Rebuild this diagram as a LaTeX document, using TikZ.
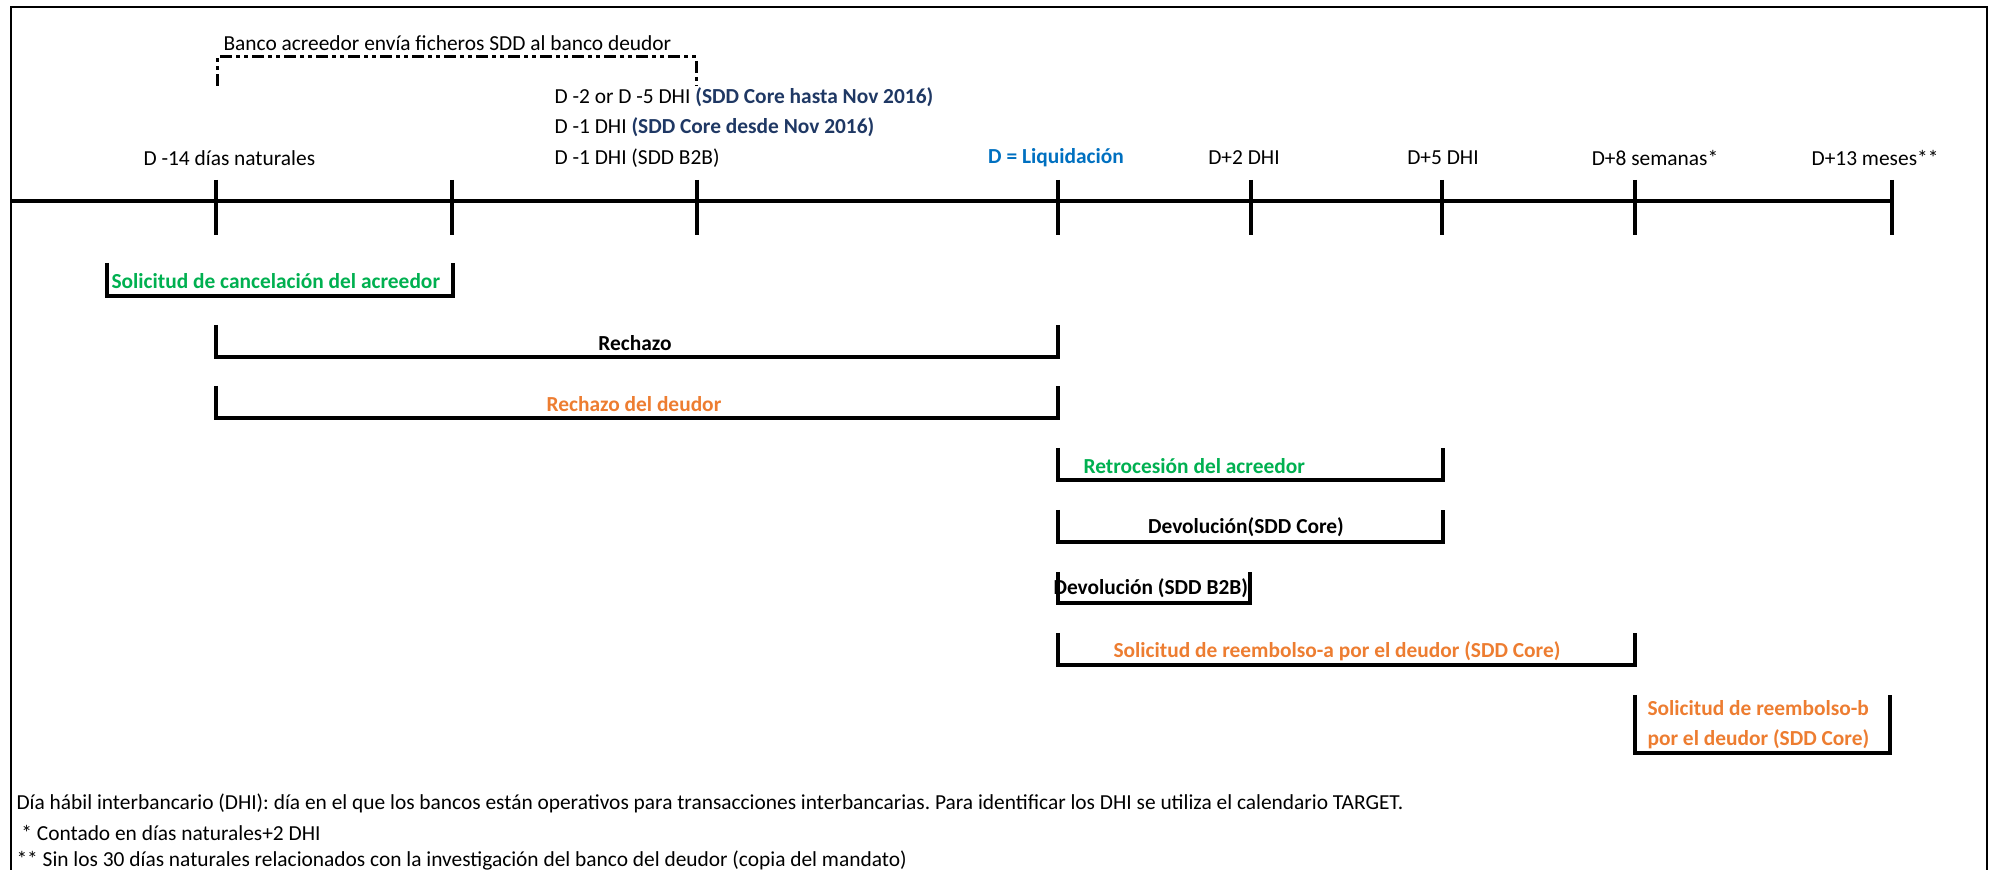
\documentclass[tikz,border=0pt]{standalone}
\usepackage{fontspec}
\setmainfont{Carlito}
\usepackage{tikz}
\usetikzlibrary{calc}
\definecolor{verde}{HTML}{00B050}
\definecolor{naranja}{HTML}{ED7D31}
\definecolor{azul}{HTML}{0070C0}
\definecolor{marino}{HTML}{1F3864}
\frenchspacing

\begin{document}
\begin{tikzpicture}[x=0.5pt,y=-0.5pt]
	\fontsize{10.7}{12.8}\selectfont
	\useasboundingbox (0,0) rectangle (1993,870);
	\draw[line width=1pt] (11,870)--(11,7)--(1987,7)--(1987,870);

	\draw[line width=2.2pt] (11,201)--(1892,201);
	\foreach \x in {216,452,697,1058,1251,1442,1635,1892}
		\draw[line width=2pt] (\x,180)--(\x,235);

	\node[anchor=west] (envio) at (216,43) {Banco acreedor envía ficheros SDD al banco deudor};
	\draw[line width=1.5pt, dash pattern=on 6pt off 2pt on 2pt off 2pt on 2pt off 2pt] (217,86)--(217,57)--(696,57)--(696,86);

	\node[anchor=west] (dm14) at (136,158) {D -14 días naturales};
	\node[anchor=west] (dhasta) at (547,97) {D -2 or D -5 DHI \textcolor{marino}{\bfseries(SDD Core hasta Nov 2016)}};
	\node[anchor=west] (ddesde) at (547,127) {D -1 DHI \textcolor{marino}{\bfseries(SDD Core desde Nov 2016)}};
	\node[anchor=west] (db2b) at (547,158) {D -1 DHI (SDD B2B)};
	\node (dliq) at (1056,158) {\bfseries\textcolor{azul}{D = Liquidación}};
	\node (dp2) at (1244,158) {D+2 DHI};
	\node (dp5) at (1443,158) {D+5 DHI};
	\node (dp8) at (1655,158) {D+8 semanas*};
	\node (dp13) at (1875,158) {D+13 meses**};

	\draw[line width=1.7pt] (107,263)--(107,296)--(453,296)--(453,263);
	\node[anchor=west, text=verde, font=\bfseries] (cancel) at (104,281) {Solicitud de cancelación del acreedor};

	\draw[line width=1.7pt] (216,325)--(216,357)--(1058,357)--(1058,325);
	\node[font=\bfseries] (rech) at (635,343) {Rechazo};

	\draw[line width=1.7pt] (216,386)--(216,418)--(1058,418)--(1058,386);
	\node[text=naranja, font=\bfseries] (rechd) at (634,404) {Rechazo del deudor};

	\draw[line width=1.7pt] (1058,448)--(1058,480)--(1443,480)--(1443,448);
	\node[anchor=west, text=verde, font=\bfseries] (retro) at (1076,466) {Retrocesión del acreedor};

	\draw[line width=1.7pt] (1058,510)--(1058,542)--(1443,542)--(1443,510);
	\node[font=\bfseries] (devcore) at (1246,527) {Devolución(SDD Core)};

	\draw[line width=1.7pt] (1058,572)--(1058,603)--(1250,603)--(1250,572);
	\node[anchor=west, font=\bfseries] (devb2b) at (1046,588) {Devolución (SDD B2B)};

	\draw[line width=1.7pt] (1058,633)--(1058,665)--(1635,665)--(1635,633);
	\node[text=naranja, font=\bfseries] (reema) at (1337,651) {Solicitud de reembolso-a por el deudor (SDD Core)};

	\draw[line width=1.7pt] (1635,695)--(1635,753)--(1890,753)--(1890,695);
	\node[anchor=west, text=naranja, font=\bfseries] (reemb1) at (1640,708) {Solicitud de reembolso-b};
	\node[anchor=west, text=naranja, font=\bfseries] (reemb2) at (1640,739) {por el deudor (SDD Core)};

	\node[anchor=west] (nota1) at (9,803) {Día hábil interbancario (DHI): día en el que los bancos están operativos para transacciones interbancarias. Para identificar los DHI se utiliza el calendario TARGET.};
	\node[anchor=west] (nota2) at (9,833) {\ * Contado en días naturales+2 DHI};
	\node[anchor=west] (nota3) at (9,861) {** Sin los 30 días naturales relacionados con la investigación del banco del deudor (copia del mandato)};
\end{tikzpicture}
\end{document}
